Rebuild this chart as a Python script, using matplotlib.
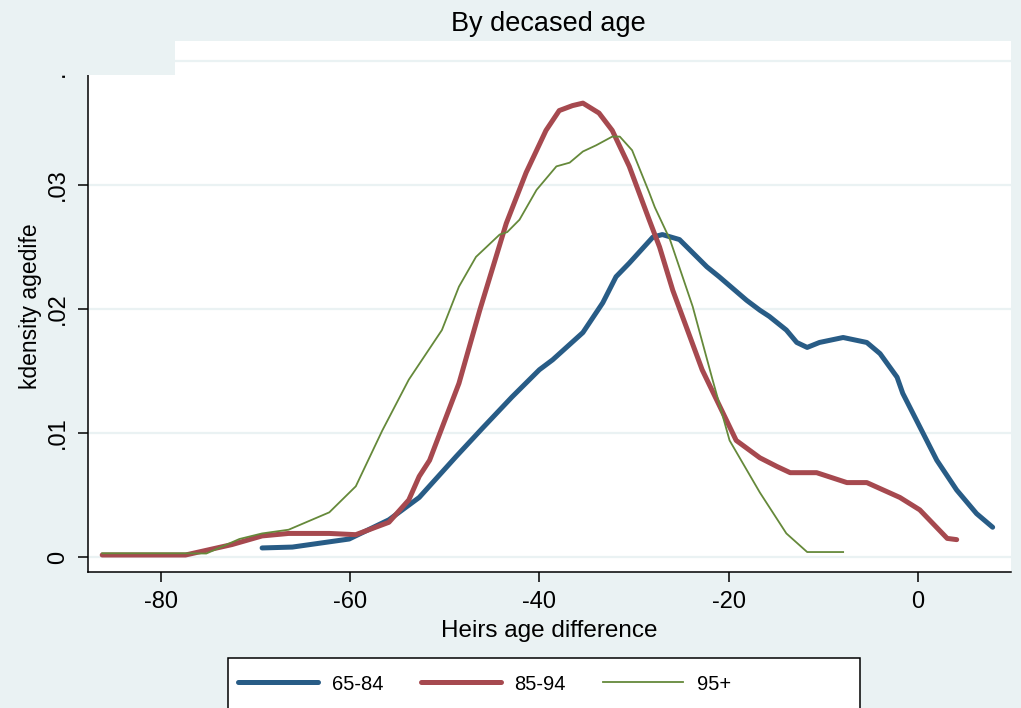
import matplotlib
matplotlib.use("Agg")
import matplotlib.pyplot as plt
from matplotlib.patches import Rectangle
from matplotlib import font_manager

plt.rcParams['font.family'] = ['Liberation Sans', 'DejaVu Sans']

# kdensity of heirs' age difference
age_6584 = [-69.3, -66.1, -60.1, -55.9, -52.7, -48.8, -46.0, -42.9, -40.0, -38.6, -35.4,
            -33.3, -31.9, -30.5, -28.0, -27.0, -25.2, -22.3, -21.0, -18.1, -16.7, -15.7,
            -13.9, -12.8, -11.7, -10.4, -7.9, -5.4, -4.0, -2.2, -1.6, 0.2, 2.0, 4.1, 6.2, 7.9]
dens_6584 = [0.00073, 0.0008, 0.00145, 0.003, 0.0048, 0.0081, 0.0104, 0.0129, 0.0151, 0.0159, 0.0181,
             0.0205, 0.0226, 0.0237, 0.0258, 0.026, 0.0256, 0.0234, 0.0226, 0.0207, 0.0199, 0.0194,
             0.0183, 0.0173, 0.0169, 0.0173, 0.0177, 0.0173, 0.0164, 0.0145, 0.0132, 0.0105, 0.0078,
             0.0054, 0.0035, 0.0024]

age_8594 = [-86.2, -77.4, -72.5, -69.3, -66.5, -62.2, -59.4, -55.9, -53.8, -52.7, -51.6,
            -48.5, -46.3, -43.5, -41.4, -39.3, -37.9, -36.5, -35.4, -33.7, -32.3, -30.5,
            -28.4, -27.3, -25.9, -22.8, -19.2, -16.7, -14.9, -13.5, -10.7, -7.5, -5.4,
            -1.9, 0.2, 3.1, 4.1]
dens_8594 = [0.00016, 0.00016, 0.001, 0.0017, 0.0019, 0.0019, 0.0018, 0.0028, 0.0046, 0.0065, 0.0078,
             0.014, 0.0199, 0.0269, 0.031, 0.0344, 0.036, 0.0364, 0.0366, 0.0358, 0.0344, 0.0315,
             0.0272, 0.025, 0.0215, 0.0151, 0.0094, 0.008, 0.0073, 0.0068, 0.0068, 0.006, 0.006,
             0.0048, 0.0038, 0.0015, 0.0014]

age_95 = [-86.2, -77.4, -75.2, -71.7, -69.3, -66.5, -62.2, -59.4, -56.6, -53.8, -50.3,
          -48.5, -46.7, -44.2, -43.4, -42.1, -40.3, -38.2, -36.8, -35.4, -34.0, -32.3,
          -31.5, -30.2, -28.4, -27.8, -26.2, -23.8, -21.7, -19.9, -16.7, -13.9, -11.7, -7.9]
dens_95 = [0.0003, 0.0003, 0.00028, 0.00145, 0.0019, 0.0022, 0.0036, 0.0057, 0.0102, 0.0143, 0.0183,
           0.0218, 0.0242, 0.026, 0.0262, 0.0272, 0.0296, 0.0315, 0.0318, 0.0327, 0.0332, 0.0339,
           0.0339, 0.0328, 0.0294, 0.0282, 0.0256, 0.0202, 0.0143, 0.0094, 0.0052, 0.0019, 0.0004,
           0.0004]

xticks = [-80, -60, -40, -20, 0]
yticks = [0, 0.01, 0.02, 0.03, 0.04]
ytick_labels = ['0', '.01', '.02', '.03', '.04']

bg = '#eaf2f3'
W, H = 1021, 708

# the legend text in the original is a narrow face; use one if it is there
names = {f.name for f in font_manager.fontManager.ttflist}
if 'Liberation Sans Narrow' in names:
    leg_font = {'family': 'Liberation Sans Narrow', 'size': 17}
else:
    leg_font = {'family': 'Liberation Sans', 'size': 14.5}

fig = plt.figure(figsize=(W / 100, H / 100), dpi=100, facecolor=bg)
ax = fig.add_axes([88 / W, 1 - 572 / H, (1011 - 88) / W, (572 - 41) / H])
ax.set_facecolor('white')

ax.plot(age_6584, dens_6584, color='#285c86', lw=3.6, solid_capstyle='round', label='65-84', zorder=3)
ax.plot(age_8594, dens_8594, color='#a6494f', lw=3.6, solid_capstyle='round', label='85-94', zorder=3)
ax.plot(age_95, dens_95, color='#65893a', lw=1.3, label='95+', zorder=3)

ax.set_xlim(-87.7, 9.84)
ax.set_ylim(-0.00121, 0.04161)
ax.set_xticks(xticks)
ax.set_xticklabels([str(t) for t in xticks])
ax.set_yticks(yticks)
ax.set_yticklabels(ytick_labels, rotation=90, va='center')

ax.grid(axis='y', color=bg, lw=1.6)
ax.set_axisbelow(True)
for s in ['top', 'right']:
    ax.spines[s].set_visible(False)
for s in ['left', 'bottom']:
    ax.spines[s].set_linewidth(1.1)
ax.tick_params(length=7.5, width=1.1, labelsize=17, pad=6)

ax.set_xlabel('Heirs age difference', fontsize=17.5, labelpad=5)
ax.set_ylabel('kdensity agedife', fontsize=16.5, labelpad=4)
fig.text(548 / W, 1 - 31 / H, 'By decased age', ha='center', va='baseline', fontsize=19.5)

# patch of background over the top-left corner, as in the original
fig.add_artist(Rectangle((0, 1 - 75 / H), 175 / W, 75 / H, transform=fig.transFigure,
                         facecolor=bg, edgecolor='none', zorder=10))

# legend box (wider than its entries, as Stata draws it)
fig.add_artist(Rectangle((228 / W, 1 - 713 / H), (860 - 228) / W, (713 - 658) / H,
                         transform=fig.transFigure, facecolor='white', edgecolor='black',
                         lw=1.1, zorder=4))
fs_px = leg_font['size'] * 100 / 72
leg = fig.legend(loc='center left', bbox_to_anchor=(238 / W, 1 - 684 / H), ncol=3,
                 prop=leg_font, frameon=False, handlelength=80 / fs_px,
                 handletextpad=14 / fs_px, columnspacing=37 / fs_px,
                 borderaxespad=0, borderpad=0)
leg.set_zorder(5)

fig.savefig('out.png', dpi=100, facecolor=bg)
